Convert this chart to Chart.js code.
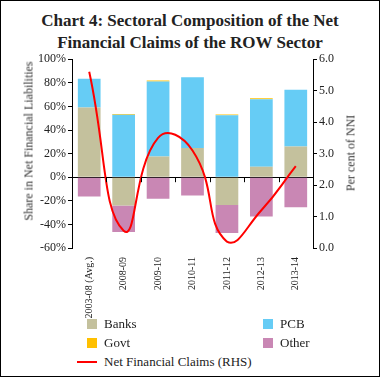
<!DOCTYPE html>
<html>
<head>
<meta charset="utf-8">
<script src="https://cdn.jsdelivr.net/npm/chart.js@4"></script>
<style>
  body { margin: 0; background: #fff; }
  .frame { position: relative; width: 380px; height: 377px; box-sizing: border-box; border: 1px solid #000; overflow: hidden; }
  .title { position: absolute; left: 0; top: 9px; width: 378px; text-align: center; font-family: "Liberation Serif", serif; font-weight: bold; font-size: 17px; line-height: 22px; color: #222; }
  .chart-box { position: absolute; left: -1px; top: 49px; width: 380px; height: 272px; }
  .axis-title { position: absolute; transform: translate(-50%, -50%) rotate(-90deg); white-space: nowrap; font-family: "Liberation Serif", serif; font-weight: normal; font-size: 12px; color: #333; }
  .legend { position: absolute; left: 0; top: 313px; width: 378px; font-family: "Liberation Serif", serif; font-size: 13px; color: #222; }
  .item { position: absolute; display: flex; align-items: center; }
  .swatch { width: 10px; height: 10px; margin-right: 7px; }
  .dash { width: 20px; height: 2px; margin-right: 7px; }
</style>
</head>
<body>
<div class="frame">
  <div class="title">Chart 4: Sectoral Composition of the Net<br>Financial Claims of the ROW Sector</div>
  <div class="chart-box"><canvas class="chart-1"></canvas></div>
  <div class="axis-title" style="left: 28px; top: 140px;">Share in Net Financial Liabilities</div>
  <div class="axis-title" style="left: 350px; top: 152px;">Per cent of NNI</div>
  <div class="legend"></div>
</div>
<script>
const labels = ['2003-08 (Avg.)', '2008-09', '2009-10', '2010-11', '2011-12', '2012-13', '2013-14'];
const banks = [59, -24, 17.5, 24.7, -23.5, 8.9, 26];
const pcb = [24.4, 53, 63.6, 59.9, 52.5, 57.2, 48.2];
const govt = [0, 0.6, 0.8, 0, 0.6, 0.9, 0];
const other = [-16.3, -22.5, -18.3, -15.5, -23.8, -33.3, -25.5];
const netClaims = [5.6, 0.55, 3.5, 3.1, 0.2, 1.2, 2.6];

const chart1 = document.querySelector('.chart-1');
const font = { family: '"Liberation Serif", serif', size: 12 };
const xFont = { family: '"Liberation Serif", serif', size: 10 };

// small tick marks on the zero line between the categories
const zeroTicks = {
  id: 'zeroTicks',
  afterDatasetsDraw(chart) {
    const x = chart.scales.x;
    const y0 = chart.scales.y.getPixelForValue(0);
    const ctx = chart.ctx;
    ctx.save();
    ctx.strokeStyle = '#000';
    ctx.lineWidth = 1;
    for (let i = 0; i < labels.length - 1; i++) {
      const px = Math.round((x.getPixelForTick(i) + x.getPixelForTick(i + 1)) / 2) + 0.5;
      ctx.beginPath();
      ctx.moveTo(px, y0);
      ctx.lineTo(px, y0 + 5);
      ctx.stroke();
    }
    ctx.restore();
  }
};

const chart = new Chart(chart1, {
  type: 'bar',
  data: {
    labels: labels,
    datasets: [
      { label: 'Net Financial Claims (RHS)', type: 'line', data: netClaims, yAxisID: 'y1',
        borderColor: '#ff0000', borderWidth: 2, pointRadius: 0, tension: 0.5, order: 0 },
      { label: 'Banks', data: banks, backgroundColor: '#c4c19d', order: 1 },
      { label: 'PCB', data: pcb, backgroundColor: '#66ccf5', order: 1 },
      { label: 'Govt', data: govt, backgroundColor: '#ffc000', order: 1 },
      { label: 'Other', data: other, backgroundColor: '#c987b4', order: 1 }
    ]
  },
  options: {
    responsive: true,
    maintainAspectRatio: false,
    animation: false,
    layout: { padding: { top: 8, bottom: 0, left: 0, right: 0 } },
    datasets: { bar: { categoryPercentage: 0.66, barPercentage: 1 } },
    plugins: { legend: { display: false }, tooltip: { enabled: false } },
    scales: {
      x: {
        stacked: true,
        grid: { display: false },
        border: { display: false },
        ticks: { font: xFont, color: '#222', minRotation: 90, maxRotation: 90, padding: 1 },
        afterFit: s => { s.height = 74; }
      },
      y: {
        stacked: true,
        min: -60, max: 100,
        ticks: { stepSize: 20, font: font, color: '#222', padding: 2, callback: v => v + '%' },
        grid: { color: c => c.tick.value === 0 ? '#000' : 'transparent', tickColor: '#000', tickLength: 4 },
        border: { color: '#000' },
        afterFit: s => { s.width = 72; }
      },
      y1: {
        position: 'right',
        min: 0, max: 6,
        ticks: { stepSize: 1, font: font, color: '#222', padding: 2, callback: v => v.toFixed(1) },
        grid: { drawOnChartArea: false, tickColor: '#000', tickLength: 4 },
        border: { color: '#000' },
        afterFit: s => { s.width = 67; }
      }
    }
  },
  plugins: [zeroTicks]
});

// legend in two columns like the original
const legend = document.querySelector('.legend');
const places = { 'Banks': [86, 2], 'PCB': [262, 2], 'Govt': [86, 21], 'Other': [262, 21], 'Net Financial Claims (RHS)': [76, 40] };
chart.data.datasets.forEach(ds => {
  const p = places[ds.label];
  const item = document.createElement('div');
  item.className = 'item';
  item.style.left = p[0] + 'px';
  item.style.top = p[1] + 'px';
  const mark = document.createElement('span');
  if (ds.type === 'line') {
    mark.className = 'dash';
    mark.style.background = ds.borderColor;
  } else {
    mark.className = 'swatch';
    mark.style.background = ds.backgroundColor;
  }
  item.appendChild(mark);
  item.appendChild(document.createTextNode(ds.label));
  legend.appendChild(item);
});
</script>
</body>
</html>
